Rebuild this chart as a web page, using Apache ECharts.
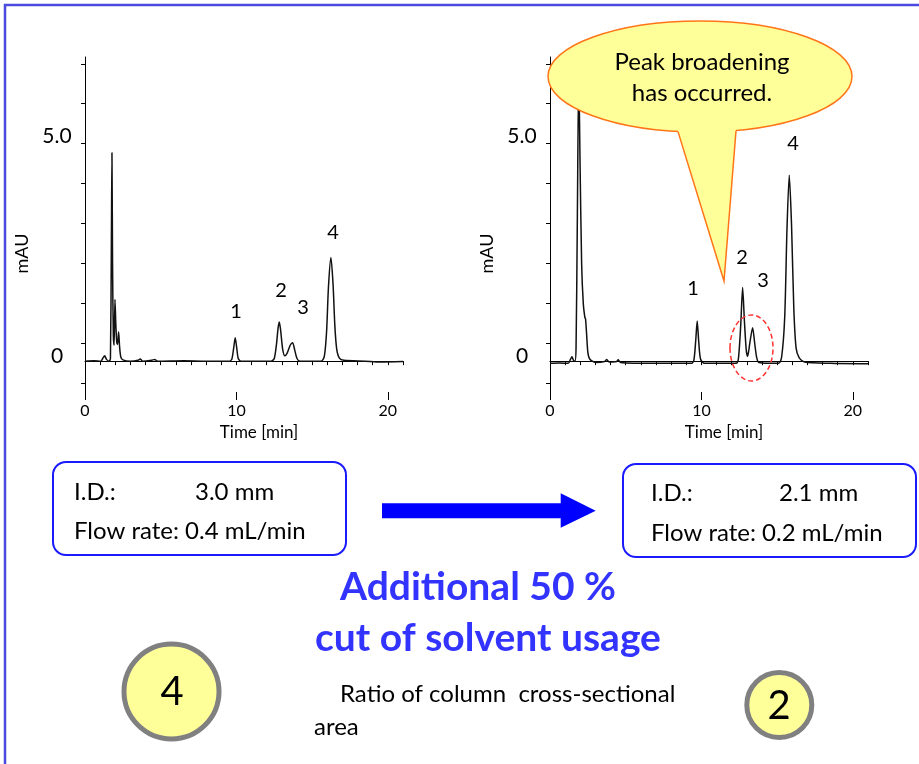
<!DOCTYPE html>
<html>
<head>
<meta charset="utf-8">
<script src="https://cdn.jsdelivr.net/npm/echarts@6.0.0/dist/echarts.min.js"></script>
<style>
  html, body { margin: 0; padding: 0; background: #fff; }
  #main { width: 919px; height: 764px; }
</style>
</head>
<body>
<div id="main"></div>
<script>
// chromatogram traces [time min, mAU]
var leftTrace = [
  [0, 0], [0.6, 0.01], [1.05, 0], [1.2, 0.08], [1.3, 0.12], [1.42, 0.04], [1.6, 0], [1.68, 0.06],
  [1.74, 2.6], [1.78, 4.73], [1.82, 2.2], [1.87, 0.6], [1.92, 0.36], [1.98, 1.4], [2.04, 0.8],
  [2.1, 0.42], [2.15, 0.38], [2.22, 0.66], [2.28, 0.35], [2.36, 0.1], [2.5, 0.03], [3.0, 0],
  [3.5, 0.02], [3.65, 0.05], [3.8, 0], [4.4, 0.02], [4.6, 0.04], [4.8, 0], [6.5, 0.01], [8.0, 0],
  [9.55, 0], [9.7, 0.05], [9.82, 0.3], [9.92, 0.53], [10.02, 0.3], [10.12, 0.06], [10.3, 0],
  [12.3, 0], [12.5, 0.06], [12.65, 0.4], [12.75, 0.75], [12.83, 0.89], [12.92, 0.7], [13.05, 0.28],
  [13.2, 0.12], [13.35, 0.18], [13.55, 0.36], [13.71, 0.42], [13.85, 0.25], [14.0, 0.06], [14.2, 0],
  [15.6, 0], [15.8, 0.1], [15.95, 0.65], [16.08, 1.7], [16.24, 2.35], [16.38, 1.75], [16.5, 0.8],
  [16.62, 0.28], [16.8, 0.07], [17.1, 0.02], [18.5, 0], [19.5, -0.02], [21, -0.01]
];
var rightTrace = [
  [0, -0.05], [0.6, -0.04], [1.2, -0.05], [1.35, 0.04], [1.45, 0.1], [1.55, 0.02], [1.65, 0],
  [1.72, 0.3], [1.8, 3.0], [1.9, 6.6], [1.98, 4.6], [2.09, 2.2], [2.2, 1.3], [2.3, 1.0],
  [2.35, 0.95], [2.42, 0.6], [2.5, 0.2], [2.62, 0.05], [3.0, -0.03], [3.6, -0.01], [3.75, 0.04],
  [3.9, -0.02], [4.4, -0.01], [4.5, 0.03], [4.65, -0.03], [7.0, -0.05], [9.35, -0.05], [9.5, 0.02],
  [9.62, 0.45], [9.72, 0.91], [9.82, 0.45], [9.94, 0.05], [10.2, -0.05], [12.3, -0.05], [12.45, 0.08],
  [12.6, 0.85], [12.72, 1.67], [12.84, 0.9], [12.96, 0.25], [13.05, 0.11], [13.2, 0.42], [13.38, 0.76],
  [13.52, 0.4], [13.65, 0.08], [13.8, -0.03], [15.1, -0.05], [15.3, 0.1], [15.5, 1.0], [15.65, 3.0],
  [15.8, 4.22], [15.95, 3.1], [16.1, 1.2], [16.25, 0.3], [16.45, 0.08], [16.8, -0.02], [18.5, -0.05],
  [21, -0.06]
];

var xTickValues = [0, 1, 2, 3, 4, 5, 6, 7, 8, 9, 10, 11, 12, 13, 14, 15, 16, 17, 18, 19, 20, 21];
var xMajorTicks = [0, 10, 20];
var xLabelValues = [0, 10, 20];
var yTickValues = [-0.5, 0.41, 1.32, 2.22, 3.13, 4.04, 4.94, 5.84, 6.74];
var yLabelValues = [0, 5];

var peakNames = ['1', '2', '3', '4'];

var font = 'Lato, "Open Sans", sans-serif';

function makeX(grid) {
  return [{
    gridIndex: grid, type: 'value', position: 'bottom', min: 0, max: 21,
    axisLine: { show: true, lineStyle: { color: '#000', width: 1 } },
    axisTick: { show: true, customValues: xTickValues, length: 4, lineStyle: { color: '#000' } },
    axisLabel: { customValues: xLabelValues, fontSize: 16, margin: 11, color: '#000', fontFamily: font },
    splitLine: { show: false },
    name: 'Time [min]', nameLocation: 'middle', nameGap: 32,
    nameTextStyle: { fontSize: 17, color: '#000', fontFamily: font, padding: [0, 0, 0, 30] }
  }, {
    gridIndex: grid, type: 'value', position: 'bottom', min: 0, max: 21,
    axisLine: { show: false },
    axisTick: { show: true, customValues: xMajorTicks, length: 8, lineStyle: { color: '#000' } },
    axisLabel: { show: false },
    splitLine: { show: false }
  }];
}

function makeY(grid) {
  return {
    gridIndex: grid, type: 'value', min: -0.7, max: 6.9,
    axisLine: { show: true, lineStyle: { color: '#000', width: 1 } },
    axisTick: { show: true, customValues: yTickValues, length: 4, lineStyle: { color: '#000' } },
    axisLabel: {
      customValues: yLabelValues, fontSize: 21, color: '#000', fontFamily: font,
      align: 'center', margin: 28, verticalAlign: 'bottom', lineHeight: 10,
      formatter: function (v) { return v === 5 ? '5.0' : '0'; }
    },
    splitLine: { show: false },
    name: 'mAU', nameLocation: 'middle', nameRotate: 90, nameGap: 54,
    nameTextStyle: { fontSize: 18, color: '#000', fontFamily: font, padding: [0, 58, 0, 0] }
  };
}

function txt(s, x, y, size, opts) {
  opts = opts || {};
  return {
    type: 'text', z: opts.z || 110,
    style: {
      text: s, x: x, y: y,
      font: (opts.bold ? 'bold ' : '') + size + 'px ' + font,
      fill: opts.color || '#000',
      align: opts.align || 'center', verticalAlign: 'middle'
    }
  };
}

var blue = '#1a1aff';
var yellow = '#FFFF99';
var orange = '#FF7518';

var graphics = [
  // frame
  { type: 'polyline', shape: { points: [[5, 764], [5, 5], [919, 5]] }, style: { stroke: '#4b4be0', lineWidth: 2.5, fill: null } },
  // peak numbers
  txt(peakNames[0], 236, 312, 20), txt(peakNames[1], 281, 291, 20),
  txt(peakNames[2], 303, 308, 20), txt(peakNames[3], 333, 233, 20),
  txt(peakNames[0], 693, 289, 20), txt(peakNames[1], 742, 258, 20),
  txt(peakNames[2], 763, 281, 20), txt(peakNames[3], 793, 144, 20),
  // dashed red ring
  { type: 'ellipse', z: 100, shape: { cx: 751.5, cy: 348, rx: 21.5, ry: 33 },
    style: { fill: null, stroke: '#ff3333', lineWidth: 1.5, lineDash: [5, 3] } },
  // speech balloon
  { type: 'ellipse', z: 100, shape: { cx: 700, cy: 76.5, rx: 152, ry: 55.5 },
    style: { fill: yellow, stroke: orange, lineWidth: 1.5 } },
  { type: 'polygon', z: 101, shape: { points: [[678, 120], [678, 131.6], [724, 281], [736, 130.8], [736, 120]] },
    style: { fill: yellow } },
  { type: 'polyline', z: 102, shape: { points: [[678, 131.6], [724, 281], [736, 130.8]] },
    style: { stroke: orange, lineWidth: 1.5, fill: null } },
  txt('Peak broadening', 702, 62, 24, { z: 103 }),
  txt('has occurred.', 702, 93, 24, { z: 103 }),
  // condition boxes
  { type: 'rect', shape: { x: 53, y: 462, width: 293, height: 93, r: 13 },
    style: { fill: '#fff', stroke: blue, lineWidth: 2 } },
  { type: 'rect', shape: { x: 623, y: 464, width: 293, height: 93, r: 13 },
    style: { fill: '#fff', stroke: blue, lineWidth: 2 } },
  txt('I.D.:', 74, 492, 24, { align: 'left' }),
  txt('3.0 mm', 195, 492, 24, { align: 'left' }),
  txt('Flow rate: 0.4 mL/min', 74, 531, 24, { align: 'left' }),
  txt('I.D.:', 651, 493, 24, { align: 'left' }),
  txt('2.1 mm', 779, 493, 24, { align: 'left' }),
  txt('Flow rate: 0.2 mL/min', 651, 533, 24, { align: 'left' }),
  // arrow
  { type: 'polygon', shape: { points: [[382, 503.3], [560.7, 503.3], [560.7, 493.3], [595.7, 510.7],
      [560.7, 527.7], [560.7, 518.3], [382, 518.3]] }, style: { fill: '#0000ff' } },
  // headline
  txt('Additional 50 %', 478, 587, 39, { bold: true, color: '#3333ff' }),
  txt('cut of solvent usage', 488, 638, 39, { bold: true, color: '#3333ff' }),
  // ratio circles
  { type: 'circle', shape: { cx: 171.5, cy: 691.5, r: 47.5 }, style: { fill: yellow, stroke: '#808080', lineWidth: 5 } },
  txt('4', 172, 692, 40),
  { type: 'circle', shape: { cx: 779.3, cy: 705, r: 32.5 }, style: { fill: yellow, stroke: '#808080', lineWidth: 5 } },
  txt('2', 779, 706, 40),
  txt('Ratio of column  cross-sectional', 340, 694, 24, { align: 'left' }),
  txt('area', 314, 727, 24, { align: 'left' })
];

var chart = echarts.init(document.getElementById('main'));
chart.setOption({
  animation: false,
  backgroundColor: '#fff',
  grid: [
    { left: 85, top: 57, width: 318, height: 335 },
    { left: 550, top: 57, width: 318, height: 335 }
  ],
  xAxis: makeX(0).concat(makeX(1)),
  yAxis: [makeY(0), makeY(1)],
  series: [
    { type: 'line', xAxisIndex: 0, yAxisIndex: 0, data: leftTrace, showSymbol: false, smooth: 0.25,
      lineStyle: { color: '#111', width: 1.5 } },
    { type: 'line', xAxisIndex: 2, yAxisIndex: 1, data: rightTrace, showSymbol: false, smooth: 0.25,
      lineStyle: { color: '#111', width: 1.5 } }
  ],
  graphic: graphics
});
</script>
</body>
</html>
